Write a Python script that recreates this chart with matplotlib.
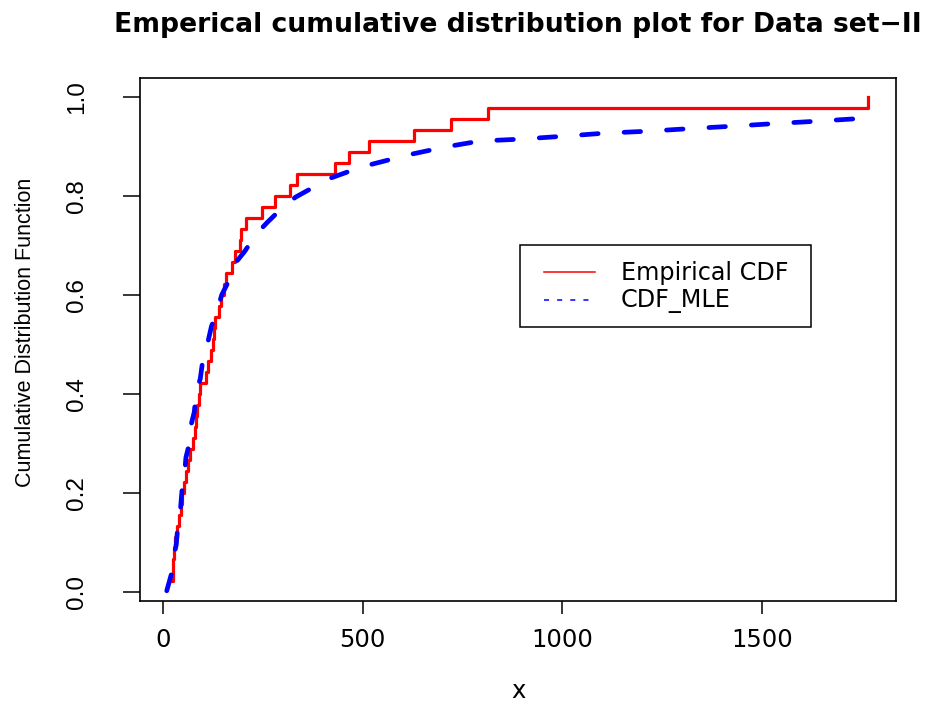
import matplotlib
matplotlib.use("Agg")
import matplotlib.pyplot as plt
from matplotlib.lines import Line2D
from matplotlib.patches import Rectangle

# sorted sample (data set II)
x_data = [22, 24, 25, 27, 30, 35, 40, 44, 47, 52, 56, 62, 68, 75, 79, 83, 86, 90, 93,
          108, 112, 121, 124, 128, 131, 140, 146, 152, 158, 172, 181, 193, 195, 208,
          248, 280, 317, 336, 430, 466, 516, 629, 721, 813, 1767]
n = len(x_data)
ecdf = [(i + 1) / n for i in range(n)]

# fitted CDF (MLE)
x_mle = [9, 20, 26, 33, 37, 43, 47, 53, 57, 65, 69, 78, 83, 93, 100, 110, 121, 133,
         147, 164, 183, 204, 234, 261, 298, 332, 377, 415, 470, 512, 570, 613, 671,
         713, 771, 816, 897, 1006, 1106, 1215, 1316, 1425, 1525, 1634, 1734, 1760]
cdf_mle = [0.003, 0.035, 0.07, 0.097, 0.137, 0.164, 0.204, 0.231, 0.272, 0.298, 0.335,
           0.364, 0.406, 0.431, 0.473, 0.498, 0.537, 0.563, 0.601, 0.628, 0.667, 0.688,
           0.724, 0.747, 0.776, 0.798, 0.818, 0.835, 0.851, 0.862, 0.874, 0.883, 0.893,
           0.900, 0.908, 0.912, 0.915, 0.921, 0.927, 0.931, 0.936, 0.941, 0.946, 0.951,
           0.956, 0.957]

x_ticks = [0, 500, 1000, 1500]
y_ticks = [0.0, 0.2, 0.4, 0.6, 0.8, 1.0]
y_ticklabels = ["0.0", "0.2", "0.4", "0.6", "0.8", "1.0"]
legend_labels = ["Empirical CDF", "CDF_MLE"]

fig = plt.figure(figsize=(9.29, 7.11), dpi=100)
ax = fig.add_axes([140 / 929, 1 - 600.7 / 711, 756 / 929, 523 / 711])

ax.step(x_data, ecdf, where="post", color="red", lw=2.3)
ax.plot(x_mle, cdf_mle, color="blue", lw=3.4, dashes=(3.5, 5.5),
        dash_capstyle="round", solid_capstyle="round")

ax.set_xlim(-58, 1836)
ax.set_ylim(-0.017, 1.039)

ax.set_xticks(x_ticks)
ax.set_xticklabels([str(t) for t in x_ticks], family="DejaVu Sans", fontsize=17.5)
ax.set_yticks(y_ticks)
ax.set_yticklabels(y_ticklabels, family="Liberation Sans", fontsize=17.5,
                   rotation=90, va="center")
ax.tick_params(axis="x", length=9.6, width=1.1, pad=10)
ax.tick_params(axis="y", length=12.5, width=1.1, pad=25)
for s in ax.spines.values():
    s.set_linewidth(1.2)

ax.set_xlabel("x", family="DejaVu Sans", fontsize=17.5)
ax.xaxis.set_label_coords(0.5, -0.15)
ax.set_ylabel("Cumulative Distribution Function", family="Liberation Sans", fontsize=15.5)
ax.yaxis.set_label_coords(-0.1376, 0.514)

ax.text(0.5, 1.088, "Emperical cumulative distribution plot for Data set\u2212II",
        transform=ax.transAxes, ha="center", va="baseline",
        family="DejaVu Sans", fontweight="bold", fontsize=19.2)

# legend box drawn like R's legend()
ax.add_patch(Rectangle((0.5026, 0.524), 0.385, 0.1562, transform=ax.transAxes,
                       facecolor="white", edgecolor="black", lw=1.1, zorder=5))
ax.add_line(Line2D([0.535, 0.6019], [0.628, 0.628], transform=ax.transAxes,
                   color="red", lw=1.1, zorder=6))
ax.add_line(Line2D([0.535, 0.6019], [0.5751, 0.5751], transform=ax.transAxes,
                   color="blue", lw=1.1, dashes=(3.3, 5.3), zorder=6))
ax.text(0.6356, 0.6134, legend_labels[0], transform=ax.transAxes, va="baseline",
        family="DejaVu Sans", fontsize=17.2, zorder=6)
ax.text(0.6356, 0.5623, legend_labels[1], transform=ax.transAxes, va="baseline",
        family="DejaVu Sans", fontsize=17.2, zorder=6)

fig.savefig("out.png", dpi=100)
